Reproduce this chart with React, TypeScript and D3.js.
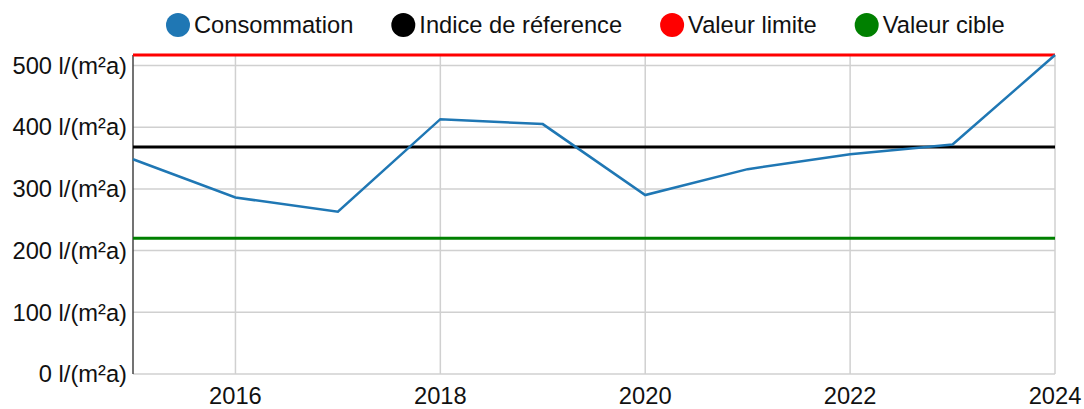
import React, { useEffect, useRef } from "react";
import * as d3 from "d3";

// data
const years = [2015, 2016, 2017, 2018, 2019, 2020, 2021, 2022, 2023, 2024];
const consommation = [348, 286, 263, 413, 405, 290, 332, 356, 372, 517];
const indiceReference = 368;
const valeurLimite = 517;
const valeurCible = 220;
const yTicks = [0, 100, 200, 300, 400, 500];
const xTicks = [2016, 2018, 2020, 2022, 2024];
const legendItems = [
  { label: "Consommation", color: "#1f77b4" },
  { label: "Indice de réference", color: "#000000" },
  { label: "Valeur limite", color: "#ff0000" },
  { label: "Valeur cible", color: "#008000" },
];

const App = () => {
  const svgRef = useRef<SVGSVGElement>(null);

  useEffect(() => {
    const svg = d3.select(svgRef.current);
    svg.selectAll("*").remove();

    const width = 1084;
    const height = 409;
    const margin = { top: 55, right: 29, bottom: 35, left: 133 };
    const font = "Arial, 'Liberation Sans', sans-serif";
    const fontSize = 23.7;

    const x = d3
      .scaleLinear()
      .domain([2015, 2024])
      .range([margin.left, width - margin.right]);
    const y = d3
      .scaleLinear()
      .domain([0, valeurLimite])
      .range([height - margin.bottom, margin.top]);

    // grid
    svg
      .append("g")
      .selectAll("line")
      .data(yTicks)
      .join("line")
      .attr("x1", margin.left)
      .attr("x2", width - margin.right)
      .attr("y1", (d) => y(d))
      .attr("y2", (d) => y(d))
      .attr("stroke", "#d0d0d0")
      .attr("stroke-width", 1.5);

    svg
      .append("g")
      .selectAll("line")
      .data(xTicks)
      .join("line")
      .attr("x1", (d) => x(d))
      .attr("x2", (d) => x(d))
      .attr("y1", y(0))
      .attr("y2", margin.top)
      .attr("stroke", "#d0d0d0")
      .attr("stroke-width", 1.5);

    // y axis line
    svg
      .append("line")
      .attr("x1", margin.left)
      .attr("x2", margin.left)
      .attr("y1", margin.top)
      .attr("y2", y(0))
      .attr("stroke", "#444")
      .attr("stroke-width", 1.5);

    // y labels
    svg
      .append("g")
      .selectAll("text")
      .data(yTicks)
      .join("text")
      .attr("x", margin.left - 6)
      .attr("y", (d) => y(d))
      .attr("dy", "0.35em")
      .attr("text-anchor", "end")
      .attr("font-family", font)
      .attr("font-size", fontSize)
      .attr("fill", "#111")
      .text((d) => `${d} l/(m²a)`);

    // x labels
    svg
      .append("g")
      .selectAll("text")
      .data(xTicks)
      .join("text")
      .attr("x", (d) => x(d))
      .attr("y", height - 5)
      .attr("text-anchor", "middle")
      .attr("font-family", font)
      .attr("font-size", fontSize)
      .attr("fill", "#111")
      .text((d) => d);

    // reference lines
    const refs = [
      { v: valeurCible, c: "#008000" },
      { v: indiceReference, c: "#000000" },
      { v: valeurLimite, c: "#ff0000" },
    ];
    refs.forEach((r) => {
      svg
        .append("line")
        .attr("x1", margin.left)
        .attr("x2", width - margin.right)
        .attr("y1", y(r.v))
        .attr("y2", y(r.v))
        .attr("stroke", r.c)
        .attr("stroke-width", 3);
    });

    // consumption line
    const line = d3
      .line<number>()
      .x((_, i) => x(years[i]))
      .y((d) => y(d));
    svg
      .append("path")
      .datum(consommation)
      .attr("fill", "none")
      .attr("stroke", "#1f77b4")
      .attr("stroke-width", 2.5)
      .attr("d", line);

    // legend
    const legend = svg
      .append("g")
      .attr("font-family", font)
      .attr("font-size", fontSize);
    let lx = 166;
    legendItems.forEach((item) => {
      legend
        .append("circle")
        .attr("cx", lx + 12)
        .attr("cy", 25)
        .attr("r", 12)
        .attr("fill", item.color);
      const t = legend
        .append("text")
        .attr("x", lx + 28)
        .attr("y", 25)
        .attr("dy", "0.35em")
        .attr("fill", "#111")
        .text(item.label);
      const w = (t.node() as SVGTextElement).getComputedTextLength();
      lx += 28 + w + 38;
    });
  }, []);

  return (
    <svg
      ref={svgRef}
      width={1084}
      height={409}
      style={{ position: "absolute", left: 0, top: 0, background: "#fff" }}
    />
  );
};

export default App;
